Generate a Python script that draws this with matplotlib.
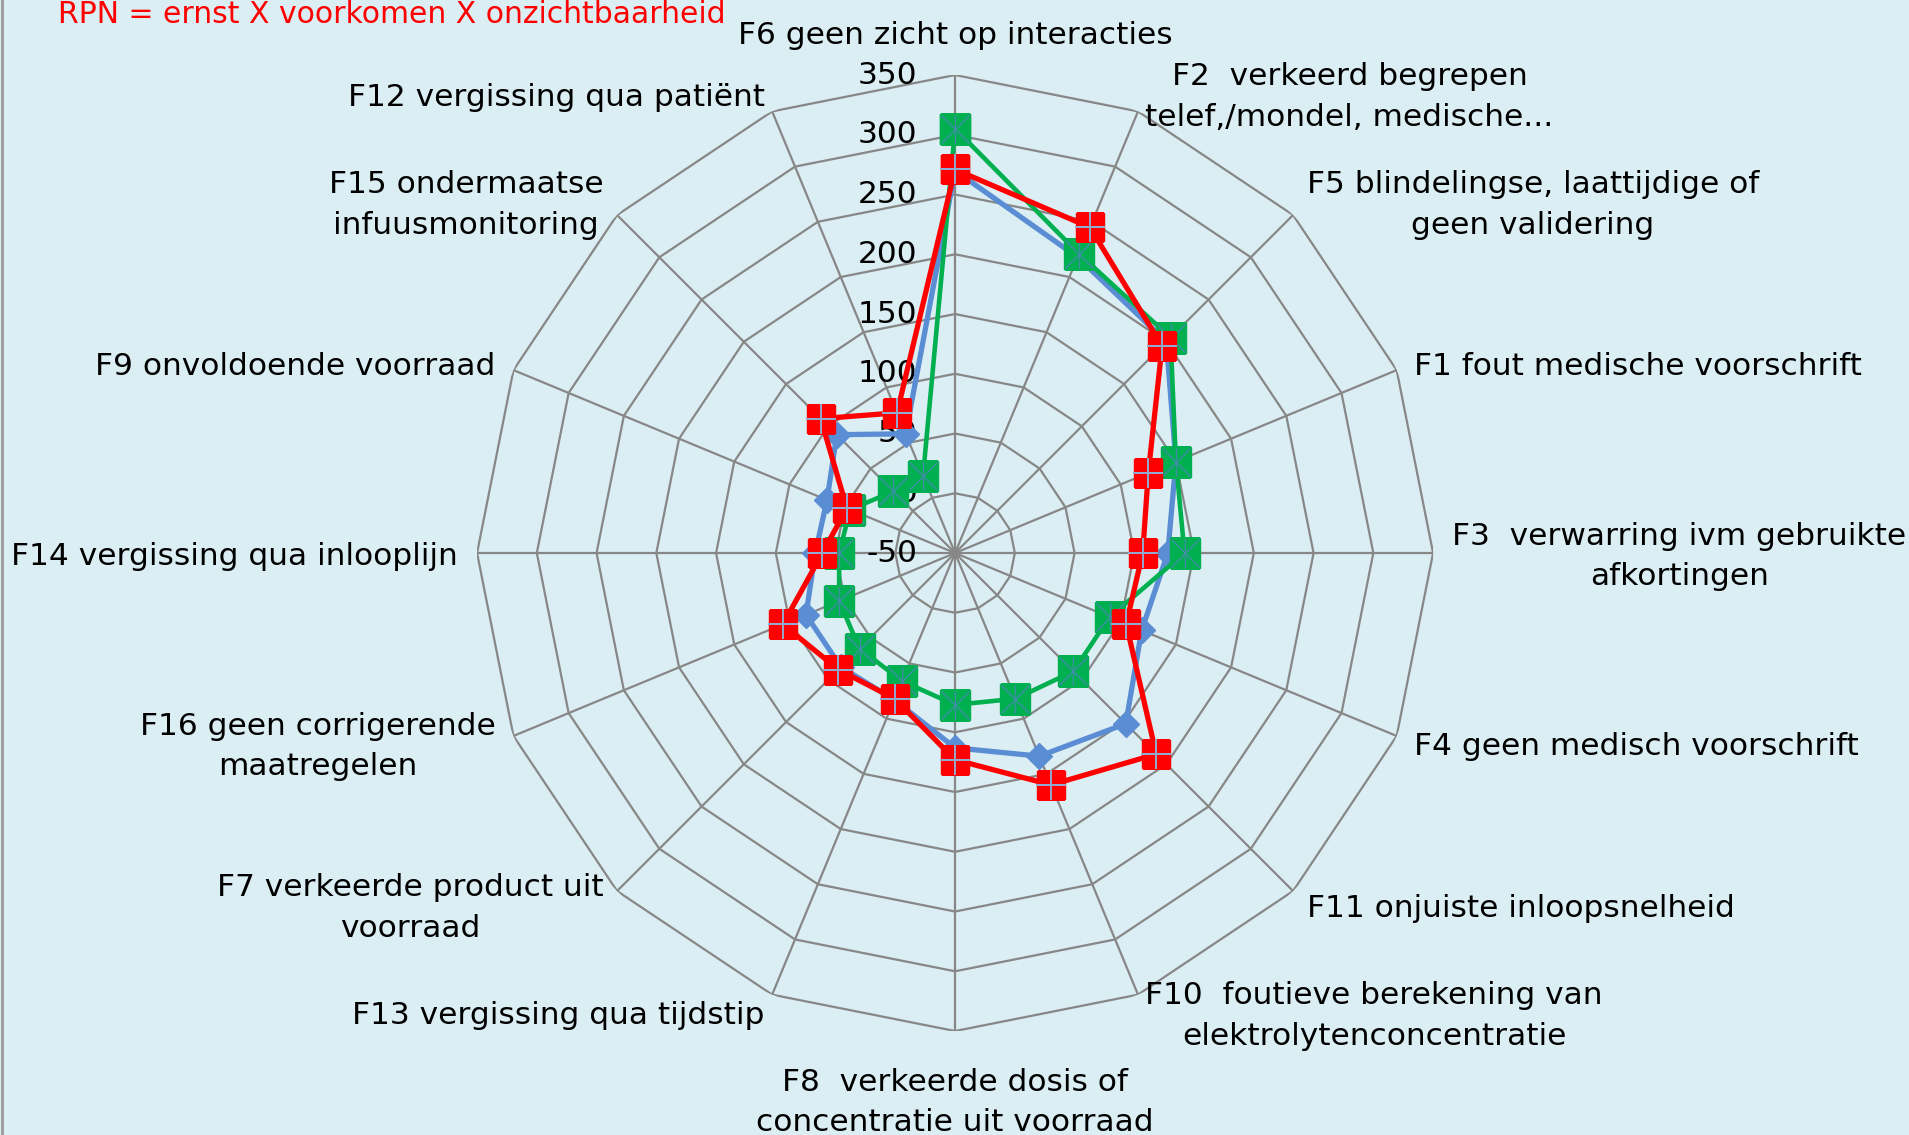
import numpy as np
import matplotlib.pyplot as plt
from matplotlib.lines import Line2D

plt.rcParams['font.family'] = ['DejaVu Sans']

# categories clockwise from the top
labels = [
    "F6 geen zicht op interacties",
    "F2  verkeerd begrepen\ntelef,/mondel, medische...",
    "F5 blindelingse, laattijdige of\ngeen validering",
    "F1 fout medische voorschrift",
    "F3  verwarring ivm gebruikte\nafkortingen",
    "F4 geen medisch voorschrift",
    "F11 onjuiste inloopsnelheid",
    "F10  foutieve berekening van\nelektrolytenconcentratie",
    "F8  verkeerde dosis of\nconcentratie uit voorraad",
    "F13 vergissing qua tijdstip",
    "F7 verkeerde product uit\nvoorraad",
    "F16 geen corrigerende\nmaatregelen",
    "F14 vergissing qua inlooplijn",
    "F9 onvoldoende voorraad",
    "F15 ondermaatse\ninfuusmonitoring",
    "F12 vergissing qua patiënt",
]
blue  = [270, 218, 200, 150, 128, 119, 152, 134, 113, 83, 85, 85, 67, 66, 90, 58]
green = [305, 221, 205, 150, 142, 90, 90, 82, 77, 66, 63, 55, 47, 45, 23, 20]
red   = [271, 245, 195, 125, 107, 105, 188, 160, 123, 82, 88, 106, 61, 48, 109, 77]
ticks = [-50, 0, 50, 100, 150, 200, 250, 300, 350]
title = "RPN = ernst X voorkomen X onzichtbaarheid"

bg = '#dbeef3'
grid_col = '#878787'
fs = 22.5

fig = plt.figure(figsize=(19.09, 11.35), dpi=100)
fig.set_facecolor(bg)
fig.add_artist(Line2D([0.0008, 0.0008], [0, 1], color='#9a9a9a', lw=2))

ax = fig.add_axes([0.2499, 0.0916, 0.5008, 0.8423], projection='polar')
ax.set_theta_zero_location('N')
ax.set_theta_direction(-1)
ax.set_ylim(-50, 350)
ax.set_axis_off()

n = len(labels)
theta = np.arange(n) * 2 * np.pi / n
closed = np.append(theta, theta[0])

# polygon grid
for t in ticks[1:]:
    ax.plot(closed, [t] * (n + 1), color=grid_col, lw=1.6, zorder=1)
for a in theta:
    ax.plot([a, a], [-50, 350], color=grid_col, lw=1.6, zorder=1)

for t in ticks:
    ax.annotate(str(t), xy=(0, t), xytext=(-27, 0), textcoords='offset points',
                ha='right', va='center', fontsize=fs, color='black', zorder=2)

def closed_vals(v):
    return list(v) + [v[0]]

# blue series
ax.plot(closed, closed_vals(blue), color='#5a8dd3', lw=3.8, marker='D', ms=13.5,
        mfc='#5a8dd3', mec='#5a8dd3', zorder=3)
# green series
ax.plot(closed, closed_vals(green), color='#00b050', lw=3.3, marker='s', ms=21,
        mfc='#00b050', mec='#00b050', mew=1, zorder=4)
ax.plot(theta, green, ls='none', marker='x', ms=20, mew=1, color='#3f8ea6', zorder=4)
ax.plot(theta, green, ls='none', marker='|', ms=20, mew=1, color='#3f8ea6', zorder=4)
# red series
ax.plot(closed, closed_vals(red), color='#ff0000', lw=3.8, marker='s', ms=20.5,
        mfc='#ff0000', mec='#ff0000', mew=1, zorder=5)
ax.plot(theta, red, ls='none', marker='+', ms=21, mew=1.4, color='#93a9cf', zorder=5)

# category labels
for a, lab in zip(theta, labels):
    s, c = np.sin(a), np.cos(a)
    ha = 'left' if s > 0.1 else ('right' if s < -0.1 else 'center')
    if c > 0.95:
        va, r = 'bottom', 374
    elif c < -0.95:
        va, r = 'top', 378
    else:
        va, r = 'center', 366
    ax.annotate(lab, xy=(a, r), xytext=(0, -2.5), textcoords='offset points',
                ha=ha, va=va, multialignment='center', fontsize=fs,
                color='black', linespacing=1.5, annotation_clip=False)

fig.text(58 / 1909, 1 - 23 / 1135, title, color='#ff0000', fontsize=21.5,
         ha='left', va='baseline')

fig.savefig('out.png', dpi=100, facecolor=bg)
